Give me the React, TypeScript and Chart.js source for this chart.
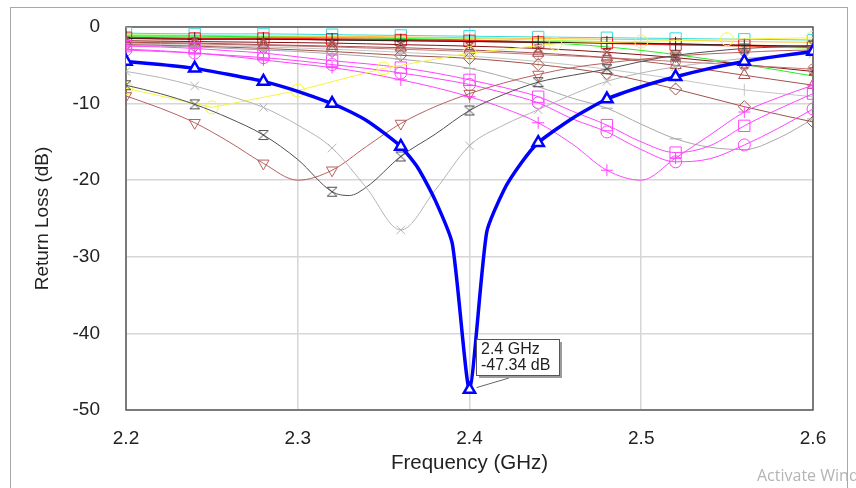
import React, { useEffect, useRef } from 'react';
import { Chart, registerables } from 'chart.js';

Chart.register(...registerables);

// ---------- axis / ticks ----------
const X_MIN = 2.2;
const X_MAX = 2.6;
const X_STEP = 0.1;
const Y_MIN = -50;
const Y_MAX = 0;
const Y_STEP = 10;
const X_TITLE = 'Frequency (GHz)';
const Y_TITLE = 'Return Loss (dB)';

// ---------- marker annotation ----------
const MARK_F = 2.4;
const MARK_DB = -47.34;

// ---------- frequency grids (GHz) ----------
const F02 = [2.2, 2.22, 2.24, 2.26, 2.28, 2.3, 2.32, 2.34, 2.36, 2.38, 2.4, 2.42, 2.44, 2.46, 2.48, 2.5, 2.52, 2.54, 2.56, 2.58, 2.6];
const F04 = [2.2, 2.24, 2.28, 2.32, 2.36, 2.4, 2.44, 2.48, 2.52, 2.56, 2.6];
const F05 = [2.2, 2.25, 2.3, 2.35, 2.4, 2.45, 2.5, 2.55, 2.6];

// ---------- series values (dB) ----------
const BLUE_F = [2.2, 2.22, 2.24, 2.26, 2.28, 2.3, 2.32, 2.33, 2.34, 2.35, 2.36, 2.37, 2.38, 2.39, 2.4, 2.41, 2.42, 2.43, 2.44, 2.46, 2.48, 2.5, 2.52, 2.54, 2.56, 2.58, 2.6];
const BLUE_DB = [-4.5, -4.9, -5.4, -6.2, -7.1, -8.4, -10.0, -11.0, -12.2, -13.8, -15.6, -18.4, -22.6, -28.3, -47.34, -26.8, -21.3, -17.8, -15.1, -11.9, -9.4, -7.8, -6.5, -5.4, -4.5, -3.8, -3.2];

const GRAYX_DB = [-5.8, -6.6, -7.7, -9.0, -10.5, -12.8, -15.8, -21.0, -26.5, -21.3, -15.5, -12.8, -10.8, -8.8, -7.1, -6.0, -5.2, -4.6, -4.1, -3.8, -3.5];

const HG_F = [2.2, 2.22, 2.24, 2.26, 2.28, 2.3, 2.32, 2.33, 2.34, 2.36, 2.38, 2.4, 2.42, 2.44, 2.46, 2.48, 2.5, 2.52, 2.54, 2.56, 2.58, 2.6];
const HG_DB = [-7.6, -8.7, -10.1, -11.9, -14.1, -17.3, -21.5, -22.0, -20.9, -16.9, -14.0, -10.9, -8.8, -7.2, -6.3, -5.5, -4.5, -3.7, -3.2, -2.8, -2.6, -2.4];

const BROWNV_DB = [-9.0, -10.6, -12.5, -15.0, -17.8, -20.0, -18.7, -15.6, -12.6, -10.4, -8.7, -7.3, -6.2, -5.3, -4.7, -4.2, -3.8, -3.5, -3.3, -3.1, -3.0];

const YELLOW_DB = [-8.0, -10.5, -8.3, -5.4, -3.4, -2.2, -1.9, -1.6, -1.4];

const MAG_PLUS_DB = [-2.9, -3.1, -3.4, -3.8, -4.3, -4.8, -5.3, -6.0, -6.9, -7.9, -9.1, -10.6, -12.5, -15.3, -18.7, -20.0, -17.1, -14.1, -11.1, -9.2, -7.6];
const MAG_CIRC_DB = [-3.0, -3.2, -3.4, -3.7, -4.0, -4.4, -4.9, -5.4, -6.0, -6.7, -7.5, -8.6, -9.9, -12.0, -13.7, -16.0, -17.6, -17.2, -15.4, -13.2, -10.7];
const MAG_SQ_DB = [-2.5, -2.6, -2.8, -3.1, -3.4, -3.9, -4.4, -4.8, -5.3, -6.0, -6.9, -7.9, -9.1, -11.0, -12.8, -15.0, -16.4, -15.5, -12.9, -10.7, -8.7];

const GRAYDASH_DB = [-2.4, -2.5, -2.6, -2.8, -3.0, -3.2, -3.5, -3.8, -4.2, -4.7, -5.4, -6.5, -7.8, -9.3, -10.6, -12.7, -14.6, -15.7, -16.0, -14.5, -12.0];

const CYAN_DB = [-0.8, -0.9, -0.9, -1.0, -1.1, -1.2, -1.3, -1.4, -1.5, -1.6, -1.7];
const LTGREEN_DB = [-1.0, -1.1, -1.2, -1.3, -1.4, -1.5, -1.7, -1.9, -2.2, -2.5, -2.8];
const ORANGE_DB = [-1.1, -1.1, -1.2, -1.2, -1.3, -1.4, -1.5, -1.6, -1.7, -1.9, -2.0];
const GREEN_DB = [-1.2, -1.2, -1.3, -1.4, -1.5, -1.7, -2.0, -2.6, -3.6, -4.9, -6.4];
const RED_DB = [-1.4, -1.5, -1.5, -1.6, -1.7, -1.8, -2.0, -2.1, -2.3, -2.4, -2.6];
const BLACK_DB = [-1.5, -1.6, -1.6, -1.7, -1.8, -1.9, -2.0, -2.1, -2.2, -2.4, -2.5];
const DARKRED_DB = [-1.8, -1.9, -2.0, -2.1, -2.3, -2.5, -2.8, -3.3, -4.0, -4.9, -5.8];
const ROSY_DB = [-2.1, -2.2, -2.4, -2.6, -2.9, -3.2, -3.6, -4.0, -4.5, -5.0, -5.5];
const LTGRAY_DB = [-2.2, -2.4, -2.6, -2.9, -3.3, -3.8, -4.5, -5.5, -6.8, -8.2, -9.1];
const BROWNTRI_DB = [-2.0, -2.1, -2.3, -2.5, -2.7, -3.0, -3.4, -4.0, -5.0, -6.3, -7.6];
const DIAMOND_DB = [-2.3, -2.5, -2.8, -3.2, -3.7, -4.1, -4.9, -6.1, -8.1, -10.4, -12.4];

const FONT = "'Liberation Sans', Arial, sans-serif";

function makeHourglass(color: string, size: number) {
  const c = document.createElement('canvas');
  c.width = size;
  c.height = size;
  const g = c.getContext('2d')!;
  g.strokeStyle = color;
  g.lineWidth = 1;
  g.beginPath();
  g.moveTo(1, 1.5);
  g.lineTo(size - 1, 1.5);
  g.lineTo(1, size - 1.5);
  g.lineTo(size - 1, size - 1.5);
  g.closePath();
  g.stroke();
  return c;
}

type Opts = {
  width?: number;
  style?: any;
  r?: number;
  step?: number;
  fill?: string;
  pw?: number;
  rot?: number;
  tension?: number;
};

function series(label: string, f: number[], db: number[], color: string, o: Opts = {}) {
  const step = o.step ?? 0.04;
  const r = o.r ?? 0;
  return {
    label,
    data: f.map((x, i) => ({ x, y: db[i] })),
    borderColor: color,
    borderWidth: o.width ?? 1,
    pointStyle: o.style ?? 'circle',
    pointRadius: (ctx: any) => {
      const x = f[ctx.dataIndex];
      const k = (x - X_MIN) / step;
      return Math.abs(k - Math.round(k)) < 1e-6 ? r : 0;
    },
    pointBorderColor: color,
    pointBackgroundColor: o.fill ?? 'rgba(0,0,0,0)',
    pointBorderWidth: o.pw ?? 1,
    pointRotation: o.rot ?? 0,
    ...(o.tension !== undefined
      ? { tension: o.tension }
      : { cubicInterpolationMode: 'monotone' as const }),
  };
}

const annotationPlugin = {
  id: 'markerLabel',
  beforeDatasetsDraw(chart: any) {
    const { ctx, chartArea: a } = chart;
    ctx.save();
    ctx.strokeStyle = '#5a5a5a';
    ctx.lineWidth = 1.5;
    ctx.strokeRect(a.left, a.top, a.right - a.left, a.bottom - a.top);
    ctx.restore();
  },
  afterDatasetsDraw(chart: any) {
    const { ctx, scales } = chart;
    const px = scales.x.getPixelForValue(MARK_F);
    const py = scales.y.getPixelForValue(MARK_DB);
    const bx = Math.round(px + 7);
    const by = Math.round(py - 51);
    const bw = 83;
    const bh = 36;
    ctx.save();
    // leader line
    ctx.strokeStyle = '#666';
    ctx.lineWidth = 1;
    ctx.beginPath();
    ctx.moveTo(bx + 33, by + bh + 3);
    ctx.lineTo(px + 7, py - 2);
    ctx.stroke();
    // shadow
    ctx.fillStyle = '#9c9c9c';
    ctx.fillRect(bx + 3, by + 3, bw, bh);
    ctx.fillStyle = '#ffffff';
    ctx.fillRect(bx, by, bw, bh);
    ctx.strokeStyle = '#555';
    ctx.strokeRect(bx + 0.5, by + 0.5, bw, bh);
    ctx.fillStyle = '#222';
    ctx.font = `16px ${FONT}`;
    ctx.textAlign = 'left';
    ctx.textBaseline = 'alphabetic';
    ctx.fillText(`${MARK_F} GHz`, bx + 5, by + 15);
    ctx.fillText(`${MARK_DB} dB`, bx + 5, by + 31);
    ctx.restore();
  },
};

export default function App() {
  const ref = useRef<HTMLCanvasElement | null>(null);

  useEffect(() => {
    const hgDark = makeHourglass('#505050', 12);
    const hgDarkRed = makeHourglass('#8b1010', 10);

    const datasets = [
      series('S11 main', BLUE_F, BLUE_DB, '#0000ff', { width: 3.5, style: 'triangle', r: 6.5, fill: '#ffffff', pw: 2.5, tension: 0.2 }),
      series('gray x', F02, GRAYX_DB, '#b4b4b4', { style: 'crossRot', r: 6 }),
      series('hourglass', HG_F, HG_DB, '#505050', { style: hgDark, r: 6 }),
      series('brown v', F02, BROWNV_DB, '#b86060', { style: 'triangle', r: 6.5, rot: 180 }),
      series('yellow', F05, YELLOW_DB, '#f5f53a', { style: 'circle', r: 6.5, step: 0.05, tension: 0 }),
      series('mag plus', F02, MAG_PLUS_DB, '#ff44ff', { style: 'cross', r: 6 }),
      series('mag circ', F02, MAG_CIRC_DB, '#ff44ff', { style: 'circle', r: 6 }),
      series('mag sq', F02, MAG_SQ_DB, '#ff44ff', { style: 'rect', r: 8 }),
      series('gray dash', F02, GRAYDASH_DB, '#a8a8a8', { style: 'line', r: 6 }),
      series('diamond', F04, DIAMOND_DB, '#a0524a', { style: 'rectRot', r: 6 }),
      series('brown tri', F04, BROWNTRI_DB, '#a85050', { style: 'triangle', r: 6.5 }),
      series('lt gray', F04, LTGRAY_DB, '#c4c4c4', { style: 'line', r: 6, rot: 90 }),
      series('rosy', F04, ROSY_DB, '#c07878', { style: 'circle', r: 5 }),
      series('dark red', F04, DARKRED_DB, '#8b1010', { style: hgDarkRed, r: 5 }),
      series('black', F04, BLACK_DB, '#222222', { style: 'cross', r: 7 }),
      series('red', F04, RED_DB, '#ff2020', { width: 2, style: 'rect', r: 8 }),
      series('green', F04, GREEN_DB, '#22ee22', {}),
      series('orange', F04, ORANGE_DB, '#ffbb33', {}),
      series('lt green', F04, LTGREEN_DB, '#99ff66', {}),
      series('cyan', F04, CYAN_DB, '#33dddd', { style: 'rect', r: 8 }),
    ];

    const tickFont = { family: FONT, size: 19 };

    const chart = new Chart(ref.current!, {
      type: 'line',
      data: { datasets: datasets as any },
      plugins: [annotationPlugin],
      options: {
        animation: false,
        responsive: true,
        maintainAspectRatio: false,
        events: [],
        layout: { autoPadding: false, padding: { top: 27, right: 43, bottom: 0, left: 0 } },
        plugins: { legend: { display: false }, tooltip: { enabled: false } },
        scales: {
          x: {
            type: 'linear',
            min: X_MIN,
            max: X_MAX,
            ticks: {
              stepSize: X_STEP,
              autoSkip: false,
              maxRotation: 0,
              padding: 17,
              color: '#222',
              font: tickFont,
              callback: (v: any) => Number(v).toFixed(1),
            },
            grid: { color: '#d6d6d6', lineWidth: 1.5, drawTicks: false },
            border: { display: false },
            title: { display: true, text: X_TITLE, color: '#222', font: { family: FONT, size: 20.5 }, padding: { top: 0, bottom: 12 } },
            afterFit: (s: any) => { s.height = 78; s.paddingLeft = 0; s.paddingRight = 0; },
          },
          y: {
            type: 'linear',
            min: Y_MIN,
            max: Y_MAX,
            ticks: {
              stepSize: Y_STEP,
              padding: 26,
              color: '#222',
              font: tickFont,
            },
            grid: { color: '#d6d6d6', lineWidth: 1.5, drawTicks: false },
            border: { display: false },
            title: { display: true, text: Y_TITLE, color: '#222', font: { family: FONT, size: 19 }, padding: { top: 31, bottom: 0 } },
            afterFit: (s: any) => { s.width = 126; s.paddingTop = 0; s.paddingBottom = 0; },
          },
        },
      } as any,
    });
    return () => chart.destroy();
  }, []);

  return (
    <div style={{ position: 'fixed', left: 0, top: 0, width: 856, height: 488, overflow: 'hidden', background: '#fff' }}>
      <div style={{ position: 'absolute', left: 10, top: 7, width: 838, height: 500, border: '1px solid #a8a8a8', boxSizing: 'border-box' }} />
      <div style={{ position: 'absolute', left: 0, top: 0, width: 856, height: 488 }}>
        <canvas ref={ref} />
      </div>
      <div style={{ position: 'absolute', left: 757, top: 464, whiteSpace: 'nowrap', color: '#b4b4b4', fontFamily: "'Open Sans', 'Noto Sans', sans-serif", fontSize: 16 }}>
        Activate Windows
      </div>
    </div>
  );
}
